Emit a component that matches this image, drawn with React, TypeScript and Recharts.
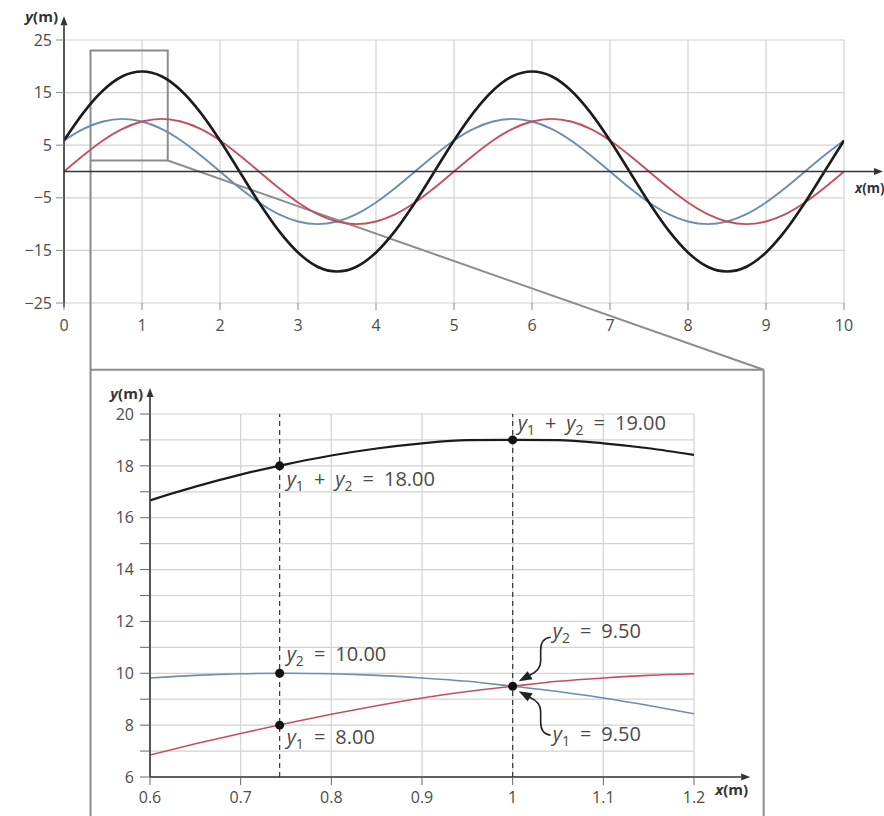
import React from 'react';
import {
  LineChart,
  Line,
  XAxis,
  YAxis,
  CartesianGrid,
  ReferenceLine,
  ReferenceArea,
  ReferenceDot,
} from 'recharts';

// ---------- top panel data ----------
const topX = [0, 0.25, 0.5, 0.75, 1, 1.25, 1.5, 1.75, 2, 2.25, 2.5, 2.75, 3, 3.25, 3.5, 3.75, 4, 4.25, 4.5, 4.75, 5, 5.25, 5.5, 5.75, 6, 6.25, 6.5, 6.75, 7, 7.25, 7.5, 7.75, 8, 8.25, 8.5, 8.75, 9, 9.25, 9.5, 9.75, 10];
const topY1 = [0, 3.1, 5.9, 8.1, 9.5, 10, 9.5, 8.1, 5.9, 3.1, 0, -3.1, -5.9, -8.1, -9.5, -10, -9.5, -8.1, -5.9, -3.1, 0, 3.1, 5.9, 8.1, 9.5, 10, 9.5, 8.1, 5.9, 3.1, 0, -3.1, -5.9, -8.1, -9.5, -10, -9.5, -8.1, -5.9, -3.1, 0];
const topY2 = [5.9, 8.1, 9.5, 10, 9.5, 8.1, 5.9, 3.1, 0, -3.1, -5.9, -8.1, -9.5, -10, -9.5, -8.1, -5.9, -3.1, 0, 3.1, 5.9, 8.1, 9.5, 10, 9.5, 8.1, 5.9, 3.1, 0, -3.1, -5.9, -8.1, -9.5, -10, -9.5, -8.1, -5.9, -3.1, 0, 3.1, 5.9];
const topSum = [5.9, 11.2, 15.4, 18.1, 19, 18.1, 15.4, 11.2, 5.9, 0, -5.9, -11.2, -15.4, -18.1, -19, -18.1, -15.4, -11.2, -5.9, 0, 5.9, 11.2, 15.4, 18.1, 19, 18.1, 15.4, 11.2, 5.9, 0, -5.9, -11.2, -15.4, -18.1, -19, -18.1, -15.4, -11.2, -5.9, 0, 5.9];
const topXTicks = [0, 1, 2, 3, 4, 5, 6, 7, 8, 9, 10];
const topYTicks = [-25, -15, -5, 5, 15, 25];

// zoom box in the top panel and the frame of the inset (top-panel data units)
const zoomBox = { x1: 0.34, x2: 1.33, y1: 2.1, y2: 23 };
const insetFrame = [
  [{ x: 0.34, y: 2.1 }, { x: 0.34, y: -125 }],
  [{ x: 1.33, y: 2.1 }, { x: 8.97, y: -37.7 }],
  [{ x: 0.34, y: -37.7 }, { x: 8.97, y: -37.7 }],
  [{ x: 8.97, y: -37.7 }, { x: 8.97, y: -125 }],
];

// ---------- inset data ----------
const zoomX = [0.6, 0.65, 0.7, 0.75, 0.8, 0.85, 0.9, 0.95, 1, 1.05, 1.1, 1.15, 1.2];
const zoomY1 = [6.85, 7.28, 7.68, 8.06, 8.42, 8.75, 9.05, 9.3, 9.5, 9.69, 9.82, 9.92, 9.98];
const zoomY2 = [9.82, 9.92, 9.98, 10, 9.98, 9.92, 9.82, 9.69, 9.5, 9.3, 9.05, 8.76, 8.44];
const zoomSum = [16.67, 17.2, 17.66, 18.06, 18.4, 18.67, 18.87, 18.99, 19.0, 18.99, 18.87, 18.68, 18.42];
const zoomXTicks = [0.6, 0.7, 0.8, 0.9, 1, 1.1, 1.2];
const zoomYTicks = [6, 7, 8, 9, 10, 11, 12, 13, 14, 15, 16, 17, 18, 19, 20];
const markerX = [0.743, 1];

const notes = [
  { x: 0.743, y: 18, subs: ['1', '2'], value: '18.00', dx: 7, dy: 20 },
  { x: 1, y: 19, subs: ['1', '2'], value: '19.00', dx: 5, dy: -10 },
  { x: 0.743, y: 10, subs: ['2'], value: '10.00', dx: 7, dy: -12 },
  { x: 0.743, y: 8, subs: ['1'], value: '8.00', dx: 7, dy: 19 },
];
const crossNote = { x: 1, y: 9.5, upper: { subs: ['2'], value: '9.50' }, lower: { subs: ['1'], value: '9.50' } };

const topData = topX.map((x, i) => ({ x, y1: topY1[i], y2: topY2[i], sum: topSum[i] }));
const zoomData = zoomX.map((x, i) => ({ x, y1: zoomY1[i], y2: zoomY2[i], sum: zoomSum[i] }));

const RED = '#c4505c';
const BLUE = '#6d8dab';
const BLACK = '#1b1b1b';
const AXIS = '#333';
const GRID = '#d2d2d2';
const TICK = '#4d4d4d';
const FRAME = '#8c8c8c';
const TICK_FONT = 16;
const SP = '\u2002';

const minus = (v: number) => (v < 0 ? '\u2212' + Math.abs(v) : String(v));

const makeTick = (fmt: (v: number) => string, dy: string) => (p: any) => (
  <text x={p.x} y={p.y} dy={dy} textAnchor={p.textAnchor} fill={TICK} style={{ fontSize: TICK_FONT }}>
    {fmt(p.payload.value)}
  </text>
);

const axisArrow = (label: string, lx: number, ly: number, anchor: string, fs: number) => (p: any) => {
  const { x1, y1, x2, y2 } = p;
  const a = Math.atan2(y2 - y1, x2 - x1);
  const L = 9;
  const W = 3.5;
  const bx = x2 - L * Math.cos(a);
  const by = y2 - L * Math.sin(a);
  const nx = -Math.sin(a) * W;
  const ny = Math.cos(a) * W;
  return (
    <g>
      <line x1={x1} y1={y1} x2={bx} y2={by} stroke={AXIS} strokeWidth={1.6} />
      <polygon points={`${x2},${y2} ${bx + nx},${by + ny} ${bx - nx},${by - ny}`} fill={AXIS} />
      <text x={x2 + lx} y={y2 + ly} textAnchor={anchor} fill="#333" style={{ fontSize: fs, fontWeight: 700 }}>
        <tspan fontStyle="italic">{label[0]}</tspan>
        {label.slice(1)}
      </text>
    </g>
  );
};

const frameLine = (p: any) => (
  <line x1={p.x1} y1={p.y1} x2={p.x2} y2={p.y2} stroke={FRAME} strokeWidth={2} />
);

function Equation({ x, y, subs, value }: { x: number; y: number; subs: string[]; value: string }) {
  const parts: any[] = [];
  subs.forEach((s, i) => {
    if (i > 0) parts.push(<tspan key={'p' + i} dy={-5}>{SP + '+' + SP}</tspan>);
    parts.push(
      <tspan key={'y' + i} fontStyle="italic">
        y
      </tspan>
    );
    parts.push(
      <tspan key={'s' + i} dy={5} style={{ fontSize: 14 }}>
        {s}
      </tspan>
    );
  });
  parts.push(<tspan key="v" dy={-5}>{SP + '=' + SP + value}</tspan>);
  return (
    <text x={x} y={y} fill="#4a4a4a" style={{ whiteSpace: 'pre', fontSize: 20 }}>
      {parts}
    </text>
  );
}

const noteDot = (n: any) => (p: any) => {
  const { cx, cy } = p;
  return (
    <g>
      <circle cx={cx} cy={cy} r={4.5} fill="#111" />
      <Equation x={cx + n.dx} y={cy + n.dy} subs={n.subs} value={n.value} />
    </g>
  );
};

const crossDot = (p: any) => {
  const { cx, cy } = p;
  const curl = (s: number) =>
    `M ${cx + 38} ${cy + s * 49} Q ${cx + 28} ${cy + s * 48} ${cx + 28} ${cy + s * 36} L ${cx + 28} ${cy + s * 25} Q ${cx + 28} ${cy + s * 16} ${cx + 17} ${cy + s * 11}`;
  const head = (s: number) =>
    `${cx + 6},${cy + s * 5} ${cx + 20},${cy + s * 7} ${cx + 15},${cy + s * 15}`;
  return (
    <g>
      <path d={curl(-1)} fill="none" stroke="#222" strokeWidth={1.6} />
      <path d={curl(1)} fill="none" stroke="#222" strokeWidth={1.6} />
      <polygon points={head(-1)} fill="#222" />
      <polygon points={head(1)} fill="#222" />
      <circle cx={cx} cy={cy} r={4.5} fill="#111" />
      <Equation x={cx + 40} y={cy - 48} subs={crossNote.upper.subs} value={crossNote.upper.value} />
      <Equation x={cx + 40} y={cy + 55} subs={crossNote.lower.subs} value={crossNote.lower.value} />
    </g>
  );
};

export default function App() {
  return (
    <div
      style={{
        position: 'absolute',
        left: 0,
        top: 0,
        width: 884,
        height: 816,
        background: '#fff',
        overflow: 'hidden',
        fontFamily: '"Open Sans", "DejaVu Sans", sans-serif',
      }}
    >
      <style>{'.recharts-surface{overflow:visible}'}</style>
      <div style={{ position: 'absolute', left: 0, top: 0 }}>
        <LineChart width={884} height={340} data={topData} margin={{ top: 40, right: 40, left: 0, bottom: 7 }}>
          <CartesianGrid stroke={GRID} strokeWidth={1.2} />
          <XAxis
            dataKey="x"
            type="number"
            domain={[0, 10]}
            ticks={topXTicks}
            interval={0}
            axisLine={false}
            tickLine={{ stroke: '#888' }}
            tickSize={7}
            tickMargin={10}
            tick={makeTick(String, '0.71em')}
            height={30}
            allowDataOverflow
          />
          <YAxis
            type="number"
            domain={[-25, 25]}
            ticks={topYTicks}
            interval={0}
            width={64}
            axisLine={false}
            tickLine={{ stroke: '#888' }}
            tickSize={8}
            tickMargin={4}
            tick={makeTick(minus, '0.355em')}
            allowDataOverflow
          />
          <ReferenceArea
            x1={zoomBox.x1}
            x2={zoomBox.x2}
            y1={zoomBox.y1}
            y2={zoomBox.y2}
            fill="none"
            fillOpacity={0}
            stroke={FRAME}
            strokeWidth={2}
            ifOverflow="visible"
          />
          {insetFrame.map((seg, i) => (
            <ReferenceLine key={'f' + i} segment={seg} ifOverflow="visible" shape={frameLine} />
          ))}
          <Line dataKey="y2" type="monotone" stroke={BLUE} strokeWidth={1.9} dot={false} isAnimationActive={false} />
          <Line dataKey="y1" type="monotone" stroke={RED} strokeWidth={1.9} dot={false} isAnimationActive={false} />
          <Line dataKey="sum" type="monotone" stroke={BLACK} strokeWidth={2.6} dot={false} isAnimationActive={false} />
          <ReferenceLine
            segment={[{ x: 0, y: 0 }, { x: 10.5, y: 0 }]}
            ifOverflow="visible"
            shape={axisArrow('x(m)', -28, 21, 'start', 13.5)}
          />
          <ReferenceLine
            segment={[{ x: 0, y: -25.8 }, { x: 0, y: 29.5 }]}
            ifOverflow="visible"
            shape={axisArrow('y(m)', -6, 6, 'end', 15)}
          />
        </LineChart>
      </div>
      <div style={{ position: 'absolute', left: 0, top: 360 }}>
        <LineChart width={884} height={456} data={zoomData} margin={{ top: 54, right: 190, left: 90, bottom: 9 }}>
          <CartesianGrid stroke={GRID} strokeWidth={1.2} />
          <XAxis
            dataKey="x"
            type="number"
            domain={[0.6, 1.2]}
            ticks={zoomXTicks}
            interval={0}
            axisLine={false}
            tickLine={{ stroke: '#666' }}
            tickSize={8}
            tickMargin={7}
            tick={makeTick(String, '0.71em')}
            height={30}
            allowDataOverflow
          />
          <YAxis
            type="number"
            domain={[6, 20]}
            ticks={zoomYTicks}
            interval={0}
            width={60}
            axisLine={false}
            tickLine={{ stroke: '#666' }}
            tickSize={10}
            tickMargin={6}
            tick={makeTick((v: number) => (v % 2 === 0 ? String(v) : ''), '0.355em')}
            allowDataOverflow
          />
          {markerX.map((mx) => (
            <ReferenceLine key={'m' + mx} x={mx} stroke="#333" strokeWidth={1.2} strokeDasharray="5 4" />
          ))}
          <Line dataKey="y2" type="monotone" stroke={BLUE} strokeWidth={1.6} dot={false} isAnimationActive={false} />
          <Line dataKey="y1" type="monotone" stroke={RED} strokeWidth={1.6} dot={false} isAnimationActive={false} />
          <Line dataKey="sum" type="monotone" stroke={BLACK} strokeWidth={2.2} dot={false} isAnimationActive={false} />
          <ReferenceLine
            segment={[{ x: 0.6, y: 6 }, { x: 1.262, y: 6 }]}
            ifOverflow="visible"
            shape={axisArrow('x(m)', -35, 18, 'start', 15)}
          />
          <ReferenceLine
            segment={[{ x: 0.6, y: 6 }, { x: 0.6, y: 21.0 }]}
            ifOverflow="visible"
            shape={axisArrow('y(m)', -7, 11, 'end', 15)}
          />
          {notes.map((n, i) => (
            <ReferenceDot key={'n' + i} x={n.x} y={n.y} r={4.5} ifOverflow="visible" shape={noteDot(n)} />
          ))}
          <ReferenceDot x={crossNote.x} y={crossNote.y} r={4.5} ifOverflow="visible" shape={crossDot} />
        </LineChart>
      </div>
    </div>
  );
}
